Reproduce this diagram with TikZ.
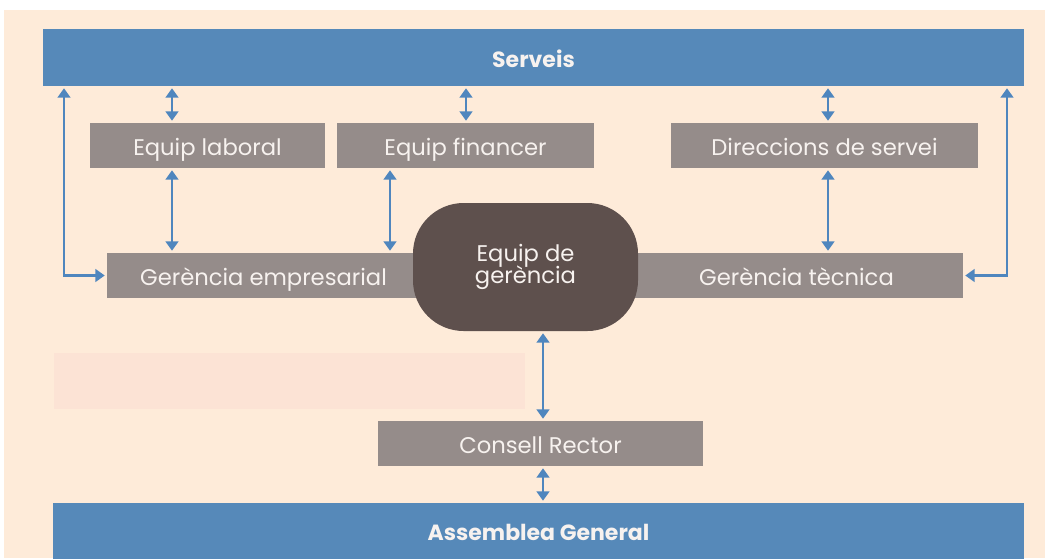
\documentclass[tikz,border=0pt]{standalone}
\usepackage{fontspec}
\setmainfont{Poppins}
\usetikzlibrary{arrows.meta}
\definecolor{cream}{HTML}{FEEBD9}
\definecolor{pinkbox}{HTML}{FCE3D5}
\definecolor{bluebar}{HTML}{5689B9}
\definecolor{greybox}{HTML}{958C8A}
\definecolor{darkbox}{HTML}{5E504D}
\definecolor{arrowblue}{HTML}{4F86BE}
\definecolor{txt}{HTML}{F7F2EF}
\tikzset{
  bar/.style={fill=bluebar, draw=none, text=txt, font=\fontsize{16.5}{20}\selectfont\bfseries, inner sep=0pt, text depth=0pt},
  gbox/.style={fill=greybox, draw=none, text=txt, font=\fontsize{17}{20}\selectfont, inner sep=0pt, minimum height=33.75pt, text height=15pt, text depth=0pt},
  cbox/.style={fill=darkbox, draw=none, text=txt, font=\fontsize{17}{20}\selectfont, inner sep=0pt, rounded corners=38pt, align=center},
  arr/.style={draw=arrowblue, line width=1.7pt, {Triangle[width=9.5pt,length=7pt]}-{Triangle[width=9.5pt,length=7pt]}, shorten <=1.5pt, shorten >=1.5pt},
}
\begin{document}
\begin{tikzpicture}[x=0.75pt,y=-0.75pt]
\useasboundingbox (0,0) rectangle (1045,558);
\fill[white] (0,0) rectangle (1045,558);
\fill[cream] (4,10) rectangle (1045,558);
\fill[pinkbox] (54,353) rectangle (525,409);

\node[bar, minimum width=735.75pt, minimum height=42.75pt, text height=14.25pt] (serveis) at (533.5,57.5) {Serveis};
\node[gbox, minimum width=176.25pt] (laboral) at (207.5,145.5) {Equip laboral};
\node[gbox, minimum width=192.75pt] (financer) at (465.5,145.5) {Equip financer};
\node[gbox, minimum width=230.25pt] (direccions) at (824.5,145.5) {Direccions de servei};
\node[gbox, minimum width=234.75pt] (gemp) at (263.5,275.5) {Gerència empresarial};
\node[gbox, minimum width=249.75pt] (gtec) at (796.5,275.5) {Gerència tècnica};
\node[cbox, minimum width=168.75pt, minimum height=96pt] (equip) at (525.5,267) {Equip de\\[-4pt]gerència};
\node[gbox, minimum width=243.75pt] (consell) at (540.5,443.5) {Consell Rector};
\node[bar, minimum width=728.25pt, minimum height=42.75pt, text height=13pt] (assemblea) at (538.5,531.5) {Assemblea General};

\coordinate (xL) at (64,0);
\coordinate (xa) at (172,0);
\coordinate (xb) at (466,0);
\coordinate (xc) at (390,0);
\coordinate (xd) at (828,0);
\coordinate (xe) at (543,0);
\coordinate (xR) at (1007,0);

\draw[arr] (serveis.south -| xa) -- (laboral.north -| xa);
\draw[arr] (laboral.south -| xa) -- (gemp.north -| xa);
\draw[arr] (serveis.south -| xb) -- (financer.north -| xb);
\draw[arr] (financer.south -| xc) -- (gemp.north -| xc);
\draw[arr] (serveis.south -| xd) -- (direccions.north -| xd);
\draw[arr] (direccions.south -| xd) -- (gtec.north -| xd);
\draw[arr] (equip.south -| xe) -- (consell.north -| xe);
\draw[arr] (consell.south -| xe) -- (assemblea.north -| xe);
\draw[arr] (serveis.south -| xL) |- (gemp.west);
\draw[arr] (serveis.south -| xR) |- (gtec.east);
\end{tikzpicture}
\end{document}
